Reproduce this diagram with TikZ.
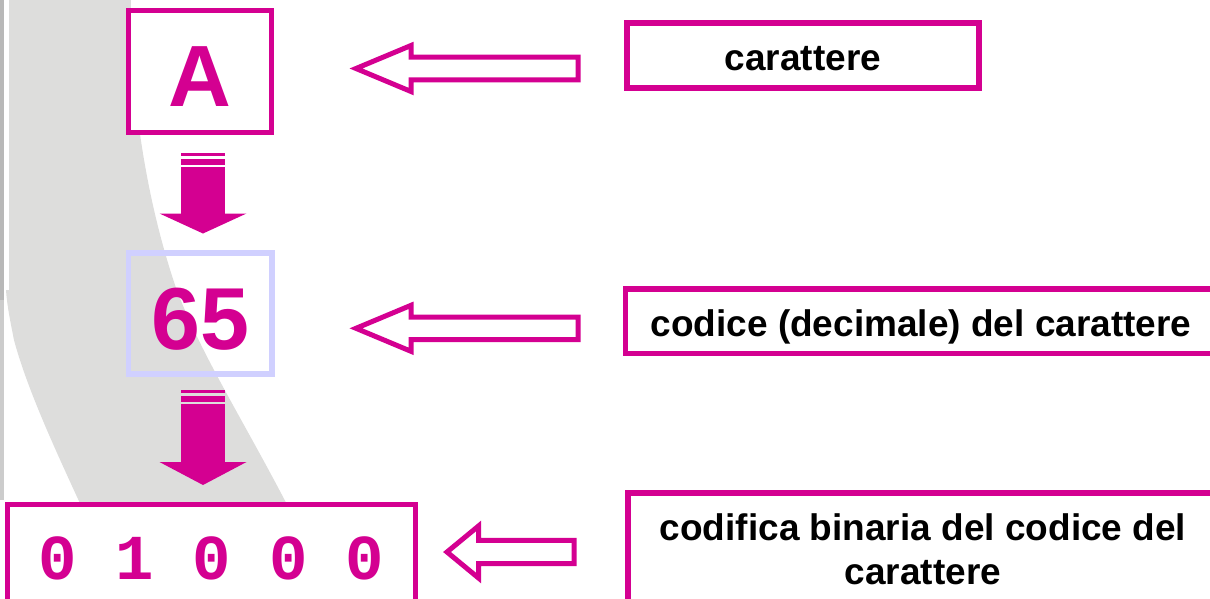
\documentclass[tikz,border=0pt]{standalone}
\usepackage{fontspec}
\setmainfont{Liberation Sans}
\newfontfamily\codefont{Liberation Mono}
\usetikzlibrary{calc}

\definecolor{slidemag}{RGB}{212,0,145}
\definecolor{paleblue}{RGB}{208,208,255}
\definecolor{bandgray}{RGB}{221,221,220}
\definecolor{edgegray}{RGB}{184,184,184}
\definecolor{edgelight}{RGB}{204,204,204}

\tikzset{
  itembox/.style={draw=slidemag, line width=5.5pt, fill=white, inner sep=0pt, outer sep=0pt,
    text=slidemag, font=\fontsize{87}{90}\selectfont\bfseries},
  labelbox/.style={draw=slidemag, line width=5.5pt, fill=white, inner sep=0pt, outer sep=0pt,
    font=\fontsize{37}{44}\selectfont\bfseries},
  oneline/.style={text height=31.8pt, text depth=2.2pt},
  pics/blockdown/.style n args={2}{code={
    \fill[slidemag] (-22,0) rectangle (22,3);
    \fill[slidemag] (-22,5.5) rectangle (22,11.5);
    \fill[slidemag] (-22,13.5) rectangle (22,13.5+#1);
    \fill[slidemag] (-43.5,13.5+#1) -- (43.5,13.5+#1) -- (0,13.5+#1+#2) -- cycle;
  }},
  pics/hollowleft/.style n args={4}{code={
    \draw[slidemag, line width=5pt, miter limit=10]
      (0,0) -- (#1,-#2) -- (#1,-#3) -- (#4,-#3) -- (#4,#3) -- (#1,#3) -- (#1,#2) -- cycle;
  }}
}

\begin{document}
\begin{tikzpicture}[x=1pt, y=-1pt]
\useasboundingbox (0,0) rectangle (1210,598);

% descriptions on the right
\node[labelbox, oneline, minimum width=352pt, minimum height=65pt] (lblChar) at (803,55.5) {carattere};
\node[labelbox, oneline, minimum width=591pt, minimum height=64.5pt] (lblCode) at (921,321.25)
      {codice (decimale) del carattere};
\node[labelbox, align=center, minimum width=590pt, minimum height=113pt] (lblBits) at (923,549.5)
      {codifica binaria del codice del\\carattere};

% hollow arrows pointing from the descriptions to the items
\pic at (356,68.5) {hollowleft={55}{23}{11.3}{222}};
\pic at (356,328.3) {hollowleft={55}{23}{11.3}{222}};
\pic at (447,552) {hollowleft={31.5}{26}{11.7}{127}};

% background swoosh on the left: curved lower part, then the straight upper block
\fill[bandgray] (128,0)
  .. controls (132,80) and (140,180) .. (175,285)
  .. controls (200,355) and (250,430) .. (300,530)
  -- (92,530)
  .. controls (70,480) and (30,400) .. (14,340)
  .. controls (10,320) and (7,305) .. (6,290)
  -- (9,290) -- (9,0) -- cycle;
\fill[bandgray] (9,0) rectangle (131,300);
\fill[edgegray] (0,0) rectangle (4,300);
\fill[edgelight] (0,300) rectangle (4,500);

% items on the left
\node[itembox, text height=69pt, minimum width=143pt, minimum height=122pt] (charA) at (200,71.5) {A};
\node[itembox, fill=none, draw=paleblue, text height=72pt, font=\fontsize{88}{90}\selectfont\bfseries,
      minimum width=143.5pt, minimum height=121pt] (code65) at (200.2,313.5) {65};
\node[itembox, font=\fontsize{64}{70}\codefont\bfseries, minimum width=408pt, minimum height=108pt]
      (bits) at (211.5,558.5) {0 1 0 0 0};

% block arrows between the items
\pic at (203,153) {blockdown={47}{20}};
\pic at (203,390) {blockdown={58.5}{23}};
\end{tikzpicture}
\end{document}
